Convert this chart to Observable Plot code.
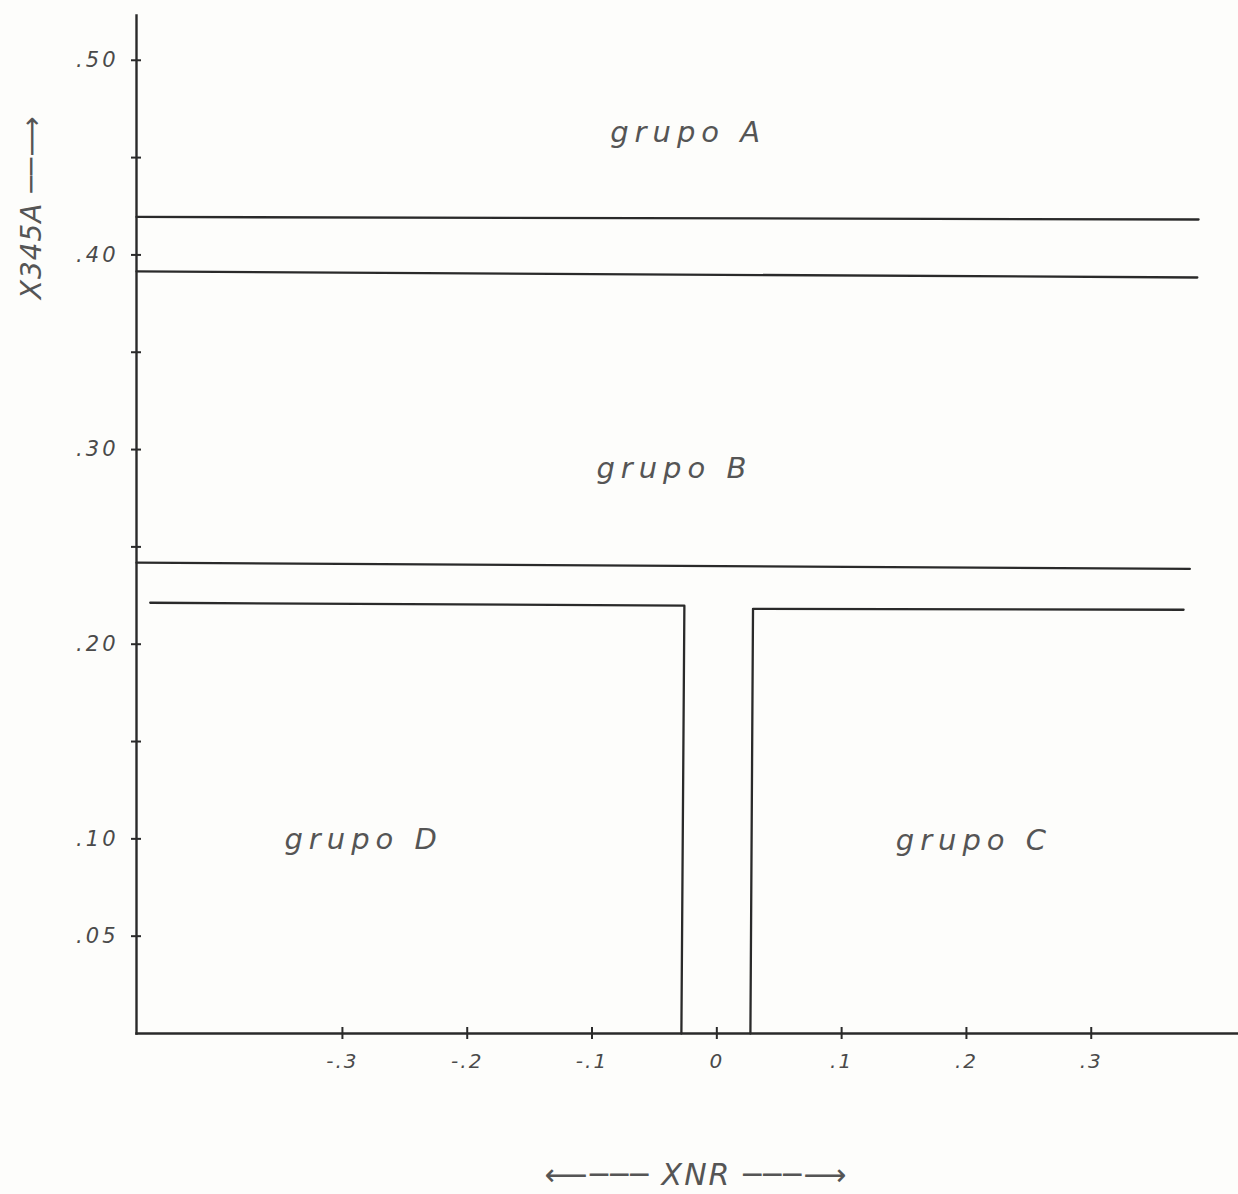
<!DOCTYPE html>
<html>
<head>
<meta charset="utf-8">
<script src="https://cdn.jsdelivr.net/npm/d3@7"></script>
<script src="https://cdn.jsdelivr.net/npm/@observablehq/plot@0.6"></script>
<style>
  html, body { margin: 0; padding: 0; background: #fdfdfb; }
  #chart svg { display: block; }
</style>
</head>
<body>
<div id="chart"></div>
<script>
// ---- data ----
const xDomain = [-0.465, 0.418];
const yDomain = [0, 0.523];

const xTicks = [-0.3, -0.2, -0.1, 0, 0.1, 0.2, 0.3];
const xTickLabels = ["-.3", "-.2", "-.1", "0", ".1", ".2", ".3"];

const yTicks = [0.05, 0.10, 0.15, 0.20, 0.25, 0.30, 0.35, 0.40, 0.45, 0.50];
const yTickLabels = [".05", ".10", "", ".20", "", ".30", "", ".40", "", ".50"];

// boundary lines between the groups (polylines)
const boundaryNames = ["A upper", "A lower / B upper", "B lower", "D border", "C border"];
const boundaryX = [
  [-0.465, 0.386],
  [-0.465, 0.385],
  [-0.465, 0.379],
  [-0.454, -0.026, -0.0284],
  [0.0269, 0.029, 0.374]
];
const boundaryY = [
  [0.4195, 0.4182],
  [0.3915, 0.3884],
  [0.2419, 0.2387],
  [0.2213, 0.2198, 0],
  [0, 0.2182, 0.2177]
];

const groupNames = ["grupo A", "grupo B", "grupo D", "grupo C"];
const groupX = [-0.023, -0.034, -0.283, 0.206];
const groupY = [0.463, 0.290, 0.0998, 0.0988];

const xLabel = "⟵─── XNR ───⟶";
const yLabel = "X345A ──⟶";

// ---- build tables ----
const boundaryPoints = boundaryNames.flatMap((name, i) =>
  boundaryX[i].map((x, j) => ({name, x, y: boundaryY[i][j]}))
);
const groups = groupNames.map((name, i) => ({name, x: groupX[i], y: groupY[i]}));

const ink = "#2a2a2a";
const textInk = "#4a4a4a";
const font = "DejaVu Sans, sans-serif";

const chart = Plot.plot({
  width: 1238,
  height: 1194,
  marginLeft: 136,
  marginRight: 0,
  marginTop: 15,
  marginBottom: 161,
  style: {background: "#fdfdfb", fontFamily: font},
  x: {domain: xDomain, axis: null},
  y: {domain: yDomain, axis: null},
  marks: [
    Plot.frame({anchor: "left", stroke: ink, strokeWidth: 2.4}),
    Plot.frame({anchor: "bottom", stroke: ink, strokeWidth: 2.4}),
    Plot.axisY({
      ticks: yTicks,
      tickSize: 10,
      dx: 5,
      tickPadding: 13,
      stroke: ink,
      strokeWidth: 2,
      tickFormat: (d) => yTickLabels[yTicks.findIndex(t => Math.abs(t - d) < 1e-9)],
      fill: textInk,
      fontSize: 21,
      fontStyle: "italic",
      label: null
    }),
    Plot.axisX({
      ticks: xTicks,
      tickSize: 12,
      dy: -6,
      tickPadding: 14,
      stroke: ink,
      strokeWidth: 2,
      tickFormat: (d) => xTickLabels[xTicks.findIndex(t => Math.abs(t - d) < 1e-9)],
      fill: textInk,
      fontSize: 20,
      fontStyle: "italic",
      label: null
    }),
    Plot.line(boundaryPoints, {x: "x", y: "y", z: "name", stroke: ink, strokeWidth: 2.3, curve: "linear"}),
    Plot.text(groups, {
      x: "x", y: "y", text: "name",
      fontSize: 29, fontStyle: "italic", fill: "#555555"
    }),
    Plot.text([yLabel], {
      frameAnchor: "top-left", dx: -104, dy: 192, rotate: -90,
      textAnchor: "middle", lineAnchor: "middle",
      fontSize: 28, fontStyle: "italic", fill: "#555555"
    }),
    Plot.text([xLabel], {
      frameAnchor: "bottom", dx: 9, dy: 142,
      textAnchor: "middle", lineAnchor: "middle",
      fontSize: 30, fontStyle: "italic", fill: "#555555"
    })
  ]
});

// tick-label lettering and letter spacing like the stencil text of the original
const sel = d3.select(chart);
sel.selectAll('g[aria-label="y-axis tick label"]').style("font-size", "21px").attr("letter-spacing", "3px");
sel.selectAll('g[aria-label="x-axis tick label"]').style("font-size", "20px").attr("letter-spacing", "2px");
const textGroups = sel.selectAll('g[aria-label="text"]').nodes();
if (textGroups[0]) textGroups[0].setAttribute("letter-spacing", "6px");
if (textGroups[1]) textGroups[1].setAttribute("letter-spacing", "1px");
if (textGroups[2]) textGroups[2].setAttribute("letter-spacing", "2px");

document.getElementById("chart").appendChild(chart);
</script>
</body>
</html>
